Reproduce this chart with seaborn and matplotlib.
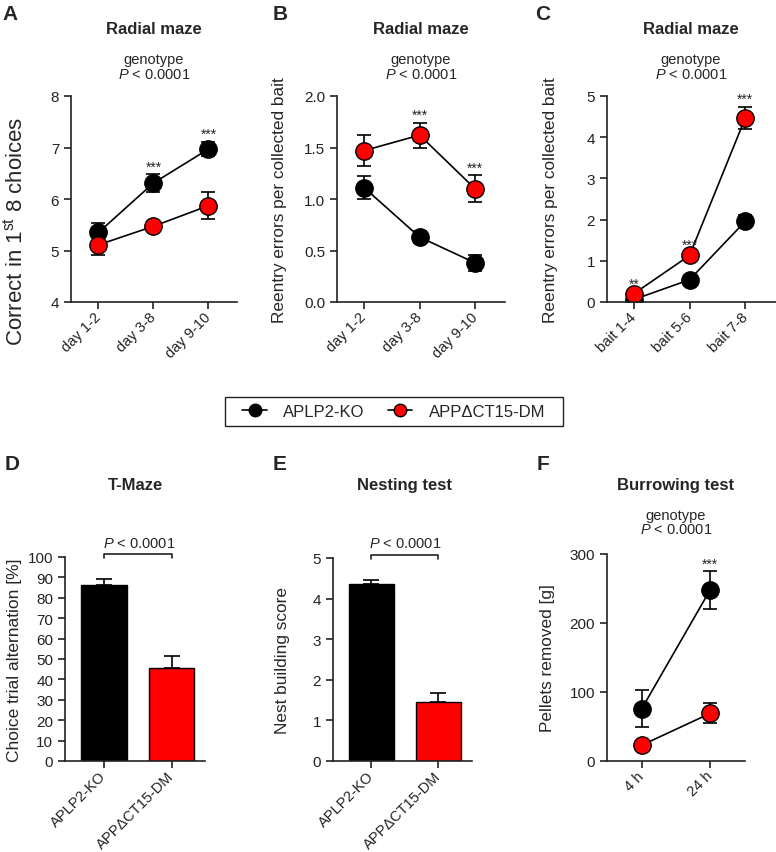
import numpy as np
import pandas as pd
import seaborn as sns
import matplotlib.pyplot as plt
from matplotlib.lines import Line2D
from matplotlib.patches import Rectangle

# ----------------- Data -----------------
groups = ["APLP2-KO", "APP\u0394CT15-DM"]
colors = ["#000000", "#ff0000"]

days = ["day 1-2", "day 3-8", "day 9-10"]
baits = ["bait 1-4", "bait 5-6", "bait 7-8"]
hours = ["4 h", "24 h"]

# A: correct in first 8 choices
a_ko = [5.35, 6.31, 6.97]
a_ko_err = [0.19, 0.17, 0.14]
a_dm = [5.11, 5.47, 5.87]
a_dm_err = [0.19, 0.05, 0.26]

# B: reentry errors per collected bait (by day)
b_ko = [1.11, 0.63, 0.38]
b_ko_err = [0.11, 0.06, 0.08]
b_dm = [1.47, 1.62, 1.10]
b_dm_err = [0.15, 0.12, 0.13]

# C: reentry errors per collected bait (by bait)
c_ko = [0.06, 0.54, 1.96]
c_ko_err = [0.03, 0.05, 0.14]
c_dm = [0.20, 1.13, 4.47]
c_dm_err = [0.05, 0.07, 0.27]

# D: T-maze
d_vals = [86.4, 45.7]
d_err = [2.6, 5.9]

# E: nesting
e_vals = [4.37, 1.46]
e_err = [0.08, 0.21]

# F: burrowing
f_ko = [76, 248]
f_ko_err = [27, 27]
f_dm = [23, 69]
f_dm_err = [3, 14.5]

# ----------------- Style -----------------
sns.set_style("ticks")
plt.rcParams["font.family"] = ["Liberation Sans", "DejaVu Sans"]
plt.rcParams["mathtext.fontset"] = "custom"
plt.rcParams["mathtext.rm"] = "Liberation Sans"
plt.rcParams["mathtext.it"] = "Liberation Sans:italic"
plt.rcParams["axes.edgecolor"] = "#222222"
plt.rcParams["xtick.color"] = "#222222"
plt.rcParams["ytick.color"] = "#222222"

W, H = 776, 853
fig = plt.figure(figsize=(W / 100, H / 100), dpi=100)


def px_axes(l, t, r, b):
    return fig.add_axes([l / W, 1 - b / H, (r - l) / W, (b - t) / H])


def ftext(x, y, s, **kw):
    fig.text(x / W, 1 - y / H, s, ha="center", va="center", **kw)


def style_axes(ax):
    sns.despine(ax=ax)
    ax.spines["left"].set_linewidth(1.2)
    ax.spines["bottom"].set_linewidth(1.2)
    ax.tick_params(axis="both", direction="out", length=5, width=1.2, labelsize=11)
    ax.tick_params(axis="x", pad=4)


def set_xlabels(ax, labels, size):
    ax.set_xticks(np.arange(len(labels)))
    ax.set_xticklabels(labels, rotation=45, ha="right", va="center",
                       rotation_mode="anchor", fontsize=size)


def line_panel(ax, cats, ko, ko_err, dm, dm_err, ylim, yticks, ylabel, yfmt=None):
    pos = np.arange(len(cats))
    for vals, errs, col in [(ko, ko_err, colors[0]), (dm, dm_err, colors[1])]:
        ax.errorbar(pos, vals, yerr=errs, fmt="none", ecolor="black",
                    elinewidth=1.2, capsize=5, capthick=1.2, zorder=1)
        df = pd.DataFrame({"x": pos, "y": vals})
        sns.lineplot(data=df, x="x", y="y", ax=ax, color="black", linewidth=1.2,
                     marker="o", markersize=12.5, markerfacecolor=col,
                     markeredgecolor="black", markeredgewidth=1.0, zorder=2)
    ax.set_ylim(*ylim)
    ax.set_yticks(yticks)
    if yfmt:
        ax.set_yticklabels([yfmt.format(v) for v in yticks])
    ax.set_xlabel("")
    ax.set_ylabel(ylabel)
    style_axes(ax)
    set_xlabels(ax, cats, 10.5)


def stars(ax, i, vals, errs, s):
    ax.annotate(s, (i, vals[i] + errs[i]), xytext=(0, 0.5), textcoords="offset points",
                ha="center", va="bottom", fontsize=10, annotation_clip=False)


def bar_panel(ax, vals, errs, ylim, yticks, ylabel):
    df = pd.DataFrame({"g": groups, "v": vals})
    sns.barplot(data=df, x="g", y="v", hue="g", palette=colors, legend=False,
                saturation=1, edgecolor="black", linewidth=1.0, width=0.67, ax=ax)
    ax.errorbar(np.arange(len(vals)), vals, yerr=[np.zeros(len(vals)), errs],
                fmt="none", ecolor="black", elinewidth=1.2, capsize=6, capthick=1.2)
    ax.set_ylim(*ylim)
    ax.set_yticks(yticks)
    ax.set_xlabel("")
    ax.set_ylabel(ylabel)
    style_axes(ax)
    set_xlabels(ax, groups, 10.5)


def bracket(ax, top, drop):
    ax.plot([0, 0, 1, 1], [top - drop, top, top, top - drop], color="#222222",
            linewidth=1.2, clip_on=False)


# ----------------- Panel A -----------------
axA = px_axes(71, 97, 237, 303)
line_panel(axA, days, a_ko, a_ko_err, a_dm, a_dm_err, (4, 8), [4, 5, 6, 7, 8],
           "Correct in 1$^{\\mathrm{st}}$ 8 choices")
axA.set_xlim(-0.5, 2.52)
axA.yaxis.label.set_size(16)
axA.yaxis.set_label_coords(-0.26, 0.35)
stars(axA, 1, a_ko, a_ko_err, "***")
stars(axA, 2, a_ko, a_ko_err, "***")

# ----------------- Panel B -----------------
axB = px_axes(337, 97, 505, 303)
line_panel(axB, days, b_ko, b_ko_err, b_dm, b_dm_err, (0, 2), [0, 0.5, 1.0, 1.5, 2.0],
           "Reentry errors per collected bait", yfmt="{:.1f}")
axB.set_xlim(-0.49, 2.54)
axB.yaxis.label.set_size(12.4)
axB.yaxis.set_label_coords(-0.30, 0.5)
stars(axB, 1, b_dm, b_dm_err, "***")
stars(axB, 2, b_dm, b_dm_err, "***")

# ----------------- Panel C -----------------
axC = px_axes(607, 97, 776, 303)
line_panel(axC, baits, c_ko, c_ko_err, c_dm, c_dm_err, (0, 5), [0, 1, 2, 3, 4, 5],
           "Reentry errors per collected bait")
axC.set_xlim(-0.48, 2.55)
axC.yaxis.label.set_size(12.4)
axC.yaxis.set_label_coords(-0.29, 0.5)
stars(axC, 0, c_dm, c_dm_err, "**")
stars(axC, 1, c_dm, c_dm_err, "***")
stars(axC, 2, c_dm, c_dm_err, "***")

# ----------------- Panel D -----------------
axD = px_axes(65, 558, 205, 762)
bar_panel(axD, d_vals, d_err, (0, 100), list(range(0, 101, 10)),
          "Choice trial alternation [%]")
axD.set_xlim(-0.57, 1.49)
axD.yaxis.label.set_size(12.5)
axD.yaxis.set_label_coords(-0.31, 0.5)
bracket(axD, 101.5, 1.8)

# ----------------- Panel E -----------------
axE = px_axes(333, 559, 472, 762)
bar_panel(axE, e_vals, e_err, (0, 5), [0, 1, 2, 3, 4, 5], "Nest building score")
axE.set_xlim(-0.57, 1.5)
axE.yaxis.label.set_size(12.4)
axE.yaxis.set_label_coords(-0.31, 0.5)
bracket(axE, 5.07, 0.09)

# ----------------- Panel F -----------------
axF = px_axes(607, 555, 745, 762)
line_panel(axF, hours, f_ko, f_ko_err, f_dm, f_dm_err, (0, 300), [0, 100, 200, 300],
           "Pellets removed [g]")
axF.set_xlim(-0.51, 1.51)
axF.yaxis.label.set_size(12.4)
axF.yaxis.set_label_coords(-0.38, 0.5)
stars(axF, 1, f_ko, f_ko_err, "***")

# ----------------- Titles & labels -----------------
ptxt = "$P$ < 0.0001"
for x, y, s in [(10, 14, "A"), (280, 14, "B"), (543, 14, "C"),
                (12, 465, "D"), (280, 465, "E"), (543, 465, "F")]:
    ftext(x, y, s, fontsize=15, fontweight="bold")

for x, y, s in [(154, 30, "Radial maze"), (421, 30, "Radial maze"), (691, 30, "Radial maze"),
                (136, 486, "T-Maze"), (404, 486, "Nesting test"), (676, 486, "Burrowing test")]:
    ftext(x, y, s, fontsize=12, fontweight="bold")

for x in [154, 421, 691]:
    ftext(x, 60, "genotype", fontsize=10.5)
    ftext(x, 75, ptxt, fontsize=10.5)
ftext(676, 516, "genotype", fontsize=10.5)
ftext(676, 530, ptxt, fontsize=10.5)
ftext(139, 544, ptxt, fontsize=10.5)
ftext(405, 544, ptxt, fontsize=10.5)

# ----------------- Legend -----------------
handles = [Line2D([], [], color="black", linewidth=1.2, marker="o", markersize=9,
                  markerfacecolor=c, markeredgecolor="black") for c in colors]
fig.legend(handles, groups, loc="center", bbox_to_anchor=(394 / W, 1 - 412.5 / H),
           ncol=2, frameon=False, fontsize=12, handlelength=1.45,
           handletextpad=1.0, columnspacing=1.4)
fig.patches.append(Rectangle((225 / W, 1 - 427 / H), 338 / W, 29 / H,
                             transform=fig.transFigure, fill=False,
                             edgecolor="#222222", linewidth=1.0))

fig.savefig("out.png", dpi=100)
